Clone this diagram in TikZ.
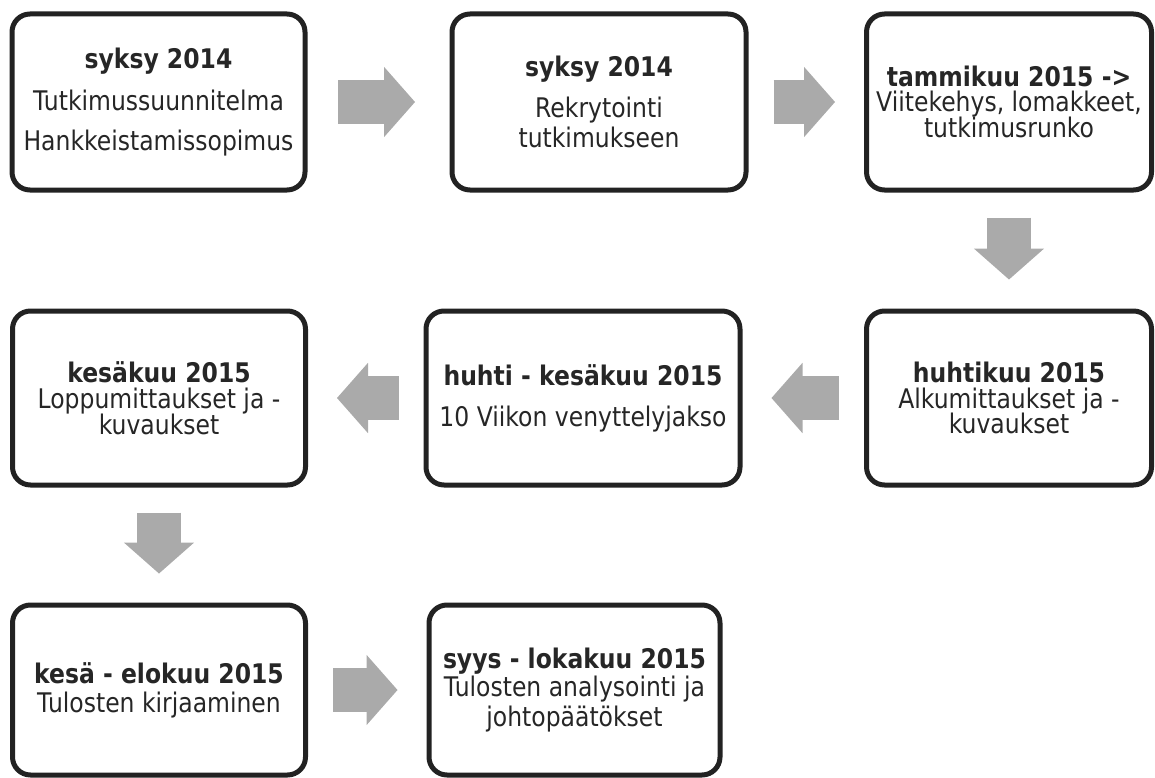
\documentclass[tikz,border=0pt]{standalone}
\usepackage{fontspec}
\setmainfont[FakeStretch=0.87]{DejaVu Sans}
\usetikzlibrary{arrows.meta}
\definecolor{boxline}{RGB}{34,34,34}
\definecolor{stepgray}{RGB}{170,170,170}
\definecolor{ink}{RGB}{38,38,38}

\begin{document}
\begin{tikzpicture}[x=1pt,y=-1pt,
  phase/.style={draw=boxline, line width=5pt, rounded corners=18pt, inner sep=0pt,
    align=center, text=ink, font=\fontsize{27}{26}\selectfont},
  flow/.style={draw=stepgray, line width=44pt,
    -{Triangle[width=70pt,length=31pt,line width=2pt]},
    shorten <=25pt, shorten >=29pt}]
\useasboundingbox (0,0) rectangle (1155,778);
\node[phase, minimum width=293pt, minimum height=176pt] (plan) at (158.5,102)
  {\textbf{syksy 2014}\\[14pt] Tutkimussuunnitelma\\[14pt] Hankkeistamissopimus};
\node[phase, minimum width=294pt, minimum height=176pt] (rekry) at (599,102)
  {\textbf{syksy 2014}\\[14pt] Rekrytointi\\[3pt] tutkimukseen};
\node[phase, minimum width=285pt, minimum height=176pt] (runko) at (1009,102)
  {\textbf{tammikuu 2015 ->}\\[-1pt] Viitekehys, lomakkeet,\\[-1pt] tutkimusrunko};
\node[phase, minimum width=285pt, minimum height=174pt] (alku) at (1009,398)
  {\textbf{huhtikuu 2015}\\[0pt] Alkumittaukset ja -\\[-2pt] kuvaukset};
\node[phase, minimum width=314pt, minimum height=174pt] (jakso) at (583,398)
  {\textbf{huhti - kesäkuu 2015}\\[15pt] 10 Viikon venyttelyjakso};
\node[phase, minimum width=293pt, minimum height=174pt] (loppu) at (159,398)
  {\textbf{kesäkuu 2015}\\[0pt] Loppumittaukset ja -\\[-1pt] kuvaukset};
\node[phase, minimum width=293pt, minimum height=170pt] (kirj) at (159,690)
  {\textbf{kesä - elokuu 2015}\\[3pt] Tulosten kirjaaminen};
\node[phase, minimum width=291pt, minimum height=170pt] (anal) at (574.5,690)
  {\textbf{syys - lokakuu 2015}\\[0pt] Tulosten analysointi ja\\[3pt] johtopäätökset};
\draw[flow, shorten <=30.5pt, shorten >=34.5pt] (plan) -- (rekry);
\draw[flow] (rekry) -- (runko);
\draw[flow] (runko) -- (alku);
\draw[flow] (alku) -- (jakso);
\draw[flow] (jakso) -- (loppu);
\draw[flow] (loppu) -- (kirj);
\draw[flow] (kirj) -- (anal);
\end{tikzpicture}
\end{document}
